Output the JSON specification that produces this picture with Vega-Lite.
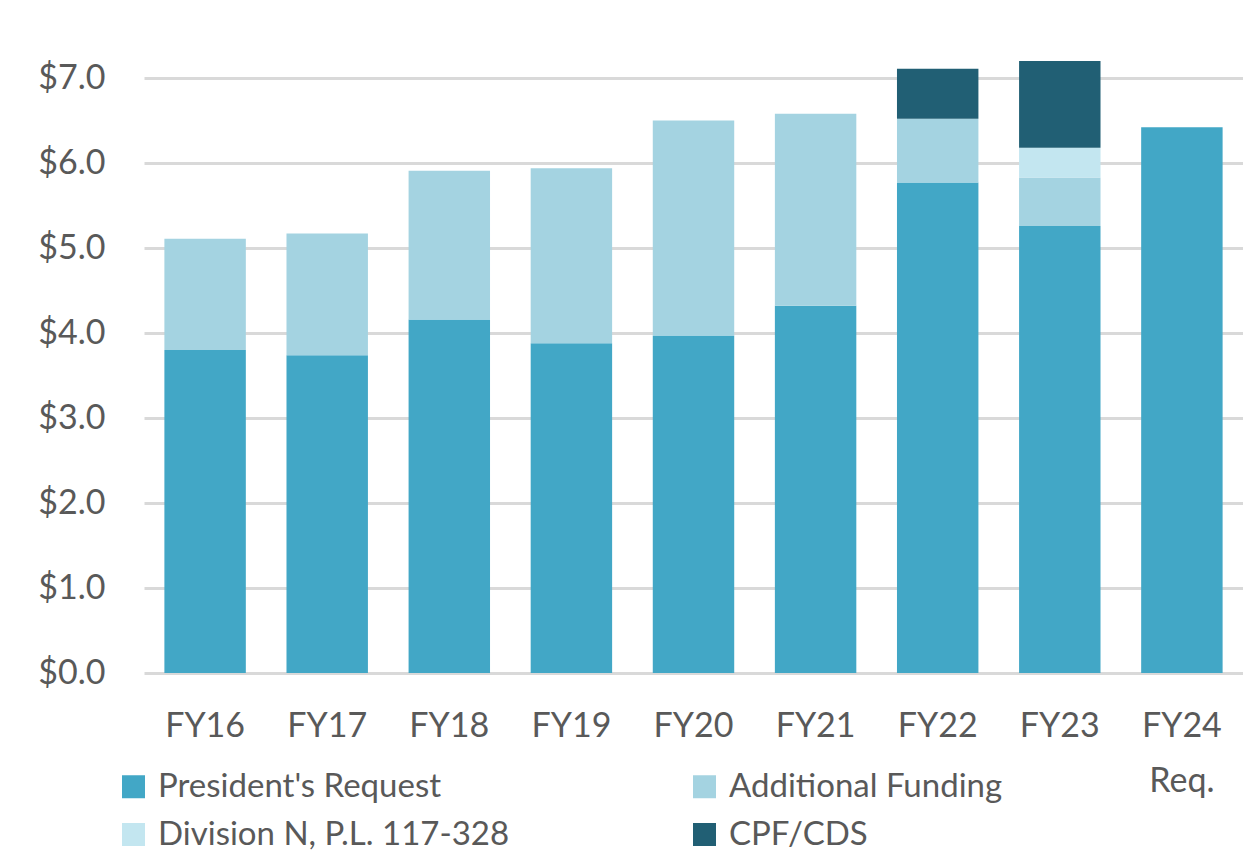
{
  "$schema": "https://vega.github.io/schema/vega-lite/v6.json",
  "width": 1099,
  "height": 623,
  "autosize": {"type": "none"},
  "padding": {"left": 144, "top": 50, "right": 0, "bottom": 182},
  "background": "white",
  "config": {
    "view": {"stroke": null},
    "font": "Lato",
    "axis": {"labelFont": "Lato", "labelColor": "#595959"},
    "legend": {"labelFont": "Lato", "labelColor": "#595959"}
  },
  "data": {
    "values": [
      {"fy": "FY16", "series": "President's Request", "value": 3.80, "k": 1},
      {"fy": "FY16", "series": "Additional Funding", "value": 1.31, "k": 2},
      {"fy": "FY17", "series": "President's Request", "value": 3.74, "k": 1},
      {"fy": "FY17", "series": "Additional Funding", "value": 1.43, "k": 2},
      {"fy": "FY18", "series": "President's Request", "value": 4.16, "k": 1},
      {"fy": "FY18", "series": "Additional Funding", "value": 1.75, "k": 2},
      {"fy": "FY19", "series": "President's Request", "value": 3.88, "k": 1},
      {"fy": "FY19", "series": "Additional Funding", "value": 2.06, "k": 2},
      {"fy": "FY20", "series": "President's Request", "value": 3.97, "k": 1},
      {"fy": "FY20", "series": "Additional Funding", "value": 2.53, "k": 2},
      {"fy": "FY21", "series": "President's Request", "value": 4.32, "k": 1},
      {"fy": "FY21", "series": "Additional Funding", "value": 2.26, "k": 2},
      {"fy": "FY22", "series": "President's Request", "value": 5.77, "k": 1},
      {"fy": "FY22", "series": "Additional Funding", "value": 0.75, "k": 2},
      {"fy": "FY22", "series": "CPF/CDS", "value": 0.59, "k": 4},
      {"fy": "FY23", "series": "President's Request", "value": 5.26, "k": 1},
      {"fy": "FY23", "series": "Additional Funding", "value": 0.57, "k": 2},
      {"fy": "FY23", "series": "Division N, P.L. 117-328", "value": 0.35, "k": 3},
      {"fy": "FY23", "series": "CPF/CDS", "value": 1.02, "k": 4},
      {"fy": "FY24 Req.", "series": "President's Request", "value": 6.42, "k": 1}
    ]
  },
  "mark": {"type": "bar"},
  "encoding": {
    "x": {
      "field": "fy",
      "type": "nominal",
      "sort": null,
      "scale": {"paddingInner": 0.333, "paddingOuter": 0.167},
      "axis": {
        "title": null,
        "labelAngle": 0,
        "domain": false,
        "ticks": false,
        "labelFontSize": 34,
        "labelPadding": 36,
        "labelBaseline": "top",
        "labelLineHeight": 55,
        "labelExpr": "datum.label == 'FY24 Req.' ? ['FY24', 'Req.'] : datum.label"
      }
    },
    "y": {
      "field": "value",
      "type": "quantitative",
      "stack": "zero",
      "scale": {"domain": [0, 7.33], "nice": false},
      "axis": {
        "title": null,
        "values": [0, 1, 2, 3, 4, 5, 6, 7],
        "format": "$.1f",
        "domain": false,
        "ticks": false,
        "labelFontSize": 34,
        "labelPadding": 39,
        "gridColor": "#d9d9d9",
        "gridWidth": 3
      }
    },
    "color": {
      "field": "series",
      "type": "nominal",
      "scale": {
        "domain": ["President's Request", "Additional Funding", "Division N, P.L. 117-328", "CPF/CDS"],
        "range": ["#42a7c6", "#a4d3e1", "#c3e6f0", "#215f74"]
      },
      "legend": {
        "title": null,
        "orient": "none",
        "legendX": -27,
        "legendY": 720,
        "direction": "horizontal",
        "columns": 2,
        "columnPadding": 178,
        "rowPadding": 14,
        "symbolType": "square",
        "symbolSize": 529,
        "symbolStrokeWidth": 0,
        "labelFontSize": 33,
        "labelOffset": 8,
        "labelLimit": 600
      }
    },
    "order": {"field": "k", "type": "quantitative"}
  }
}
